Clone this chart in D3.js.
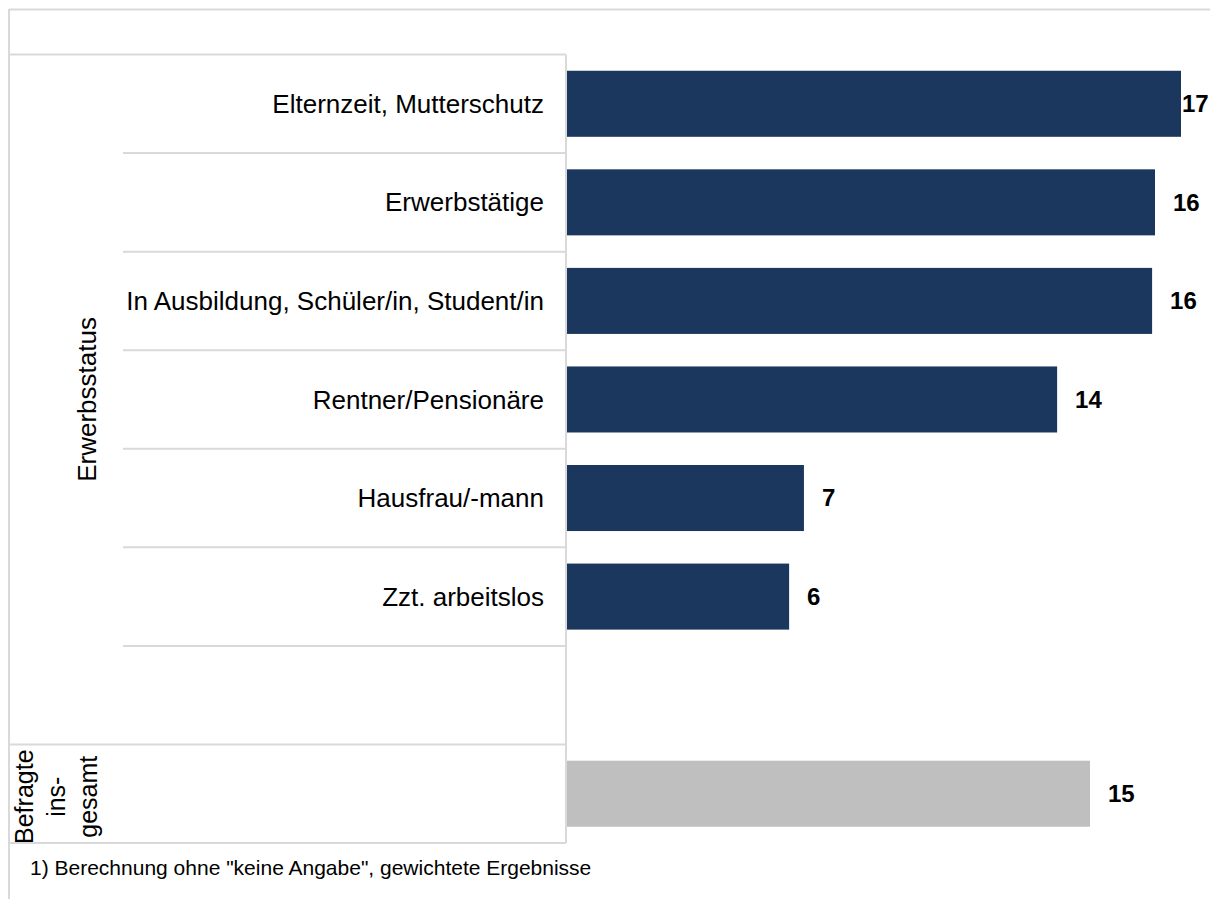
<!DOCTYPE html>
<html>
<head>
<meta charset="utf-8">
<script src="https://cdn.jsdelivr.net/npm/d3@7"></script>
<style>
  html, body { margin: 0; padding: 0; background: #fff; }
  svg { display: block; font-family: "Liberation Sans", Arial, sans-serif; }
</style>
</head>
<body>
<svg id="chart" width="1210" height="899"></svg>
<script>
// ---- data ----
const categories = [
  "Elternzeit, Mutterschutz",
  "Erwerbstätige",
  "In Ausbildung, Schüler/in, Student/in",
  "Rentner/Pensionäre",
  "Hausfrau/-mann",
  "Zzt. arbeitslos"
];
const values = [17.0, 16.28, 16.2, 13.57, 6.56, 6.15];
const valueLabels = ["17", "16", "16", "14", "7", "6"];
const groupLabel = "Erwerbsstatus";
const totalLabelLines = ["Befragte", "ins-", "gesamt"];
const totalValue = 14.48;
const totalValueLabel = "15";
const footnote = "1) Berechnung ohne \"keine Angabe\", gewichtete Ergebnisse";

// ---- layout ----
const svg = d3.select("#chart");
const W = 1210, H = 899;
const plotLeft = 567, tableLeft = 9, subLeft = 123, labelRight = 544;
const rowKeys = categories.concat(["__gap", "__total"]);
const y = d3.scaleBand().domain(rowKeys).range([54.5, 843]).padding(0);
const x = d3.scaleLinear().domain([0, 17]).range([plotLeft, 1181]);
const barFrac = 0.67;
const barH = y.bandwidth() * barFrac;
const barOff = (y.bandwidth() - barH) / 2;
const lineColor = "#d9d9d9";
const navy = "#1b375e";
const grey = "#bfbfbf";

// outer frame
svg.append("line").attr("x1", tableLeft).attr("x2", W).attr("y1", 9.5).attr("y2", 9.5)
  .attr("stroke", lineColor).attr("stroke-width", 2);
svg.append("line").attr("x1", tableLeft).attr("x2", tableLeft).attr("y1", 9).attr("y2", H)
  .attr("stroke", lineColor).attr("stroke-width", 2);

// table lines
const bounds = [y.range()[0]].concat(rowKeys.map(k => y(k) + y.bandwidth()));
bounds.forEach((b, i) => {
  const fullWidth = (i === 0 || i === 7 || i === 8);
  svg.append("line")
    .attr("x1", fullWidth ? tableLeft : subLeft).attr("x2", plotLeft - 1)
    .attr("y1", b).attr("y2", b)
    .attr("stroke", lineColor).attr("stroke-width", 2);
});
svg.append("line").attr("x1", plotLeft - 1).attr("x2", plotLeft - 1)
  .attr("y1", y.range()[0]).attr("y2", y.range()[1])
  .attr("stroke", lineColor).attr("stroke-width", 2);

// category labels
svg.append("g").selectAll("text").data(categories).join("text")
  .attr("x", labelRight)
  .attr("y", d => y(d) + y.bandwidth() / 2)
  .attr("dy", "0.35em")
  .attr("text-anchor", "end")
  .attr("font-size", 26)
  .attr("fill", "#000")
  .text(d => d);

// group label
const gTop = y(categories[0]), gBot = y("__gap") + y.bandwidth();
svg.append("text")
  .attr("transform", `translate(87,${(gTop + gBot) / 2}) rotate(-90)`)
  .attr("dy", "0.35em")
  .attr("text-anchor", "middle")
  .attr("font-size", 26)
  .attr("fill", "#000")
  .text(groupLabel);

// total label (rotated, 3 lines)
const tMid = y("__total") + y.bandwidth() / 2 + 3;
const baselines = [33, 65, 97];
totalLabelLines.forEach((t, i) => {
  svg.append("text")
    .attr("transform", `translate(${baselines[i]},${tMid}) rotate(-90)`)
    .attr("text-anchor", "middle")
    .attr("font-size", 25)
    .attr("fill", "#000")
    .text(t);
});

// bars
const data = categories.map((c, i) => ({ c, v: values[i], lab: valueLabels[i] }));
svg.append("g").selectAll("rect").data(data).join("rect")
  .attr("x", x(0))
  .attr("y", d => y(d.c) + barOff)
  .attr("width", d => x(d.v) - x(0))
  .attr("height", barH)
  .attr("fill", navy);

svg.append("rect")
  .attr("x", x(0))
  .attr("y", y("__total") + barOff)
  .attr("width", x(totalValue) - x(0))
  .attr("height", barH)
  .attr("fill", grey);

// value labels
const labelX = v => Math.min(x(v) + 18, 1182);
svg.append("g").selectAll("text").data(data).join("text")
  .attr("x", d => labelX(d.v))
  .attr("y", d => y(d.c) + y.bandwidth() / 2)
  .attr("dy", "0.35em")
  .attr("font-size", 24)
  .attr("font-weight", "bold")
  .attr("fill", "#000")
  .text(d => d.lab);
svg.append("text")
  .attr("x", labelX(totalValue))
  .attr("y", y("__total") + y.bandwidth() / 2)
  .attr("dy", "0.35em")
  .attr("font-size", 24)
  .attr("font-weight", "bold")
  .attr("fill", "#000")
  .text(totalValueLabel);

// footnote
svg.append("text")
  .attr("x", 30).attr("y", 875)
  .attr("font-size", 21)
  .attr("fill", "#000")
  .text(footnote);
</script>
</body>
</html>
